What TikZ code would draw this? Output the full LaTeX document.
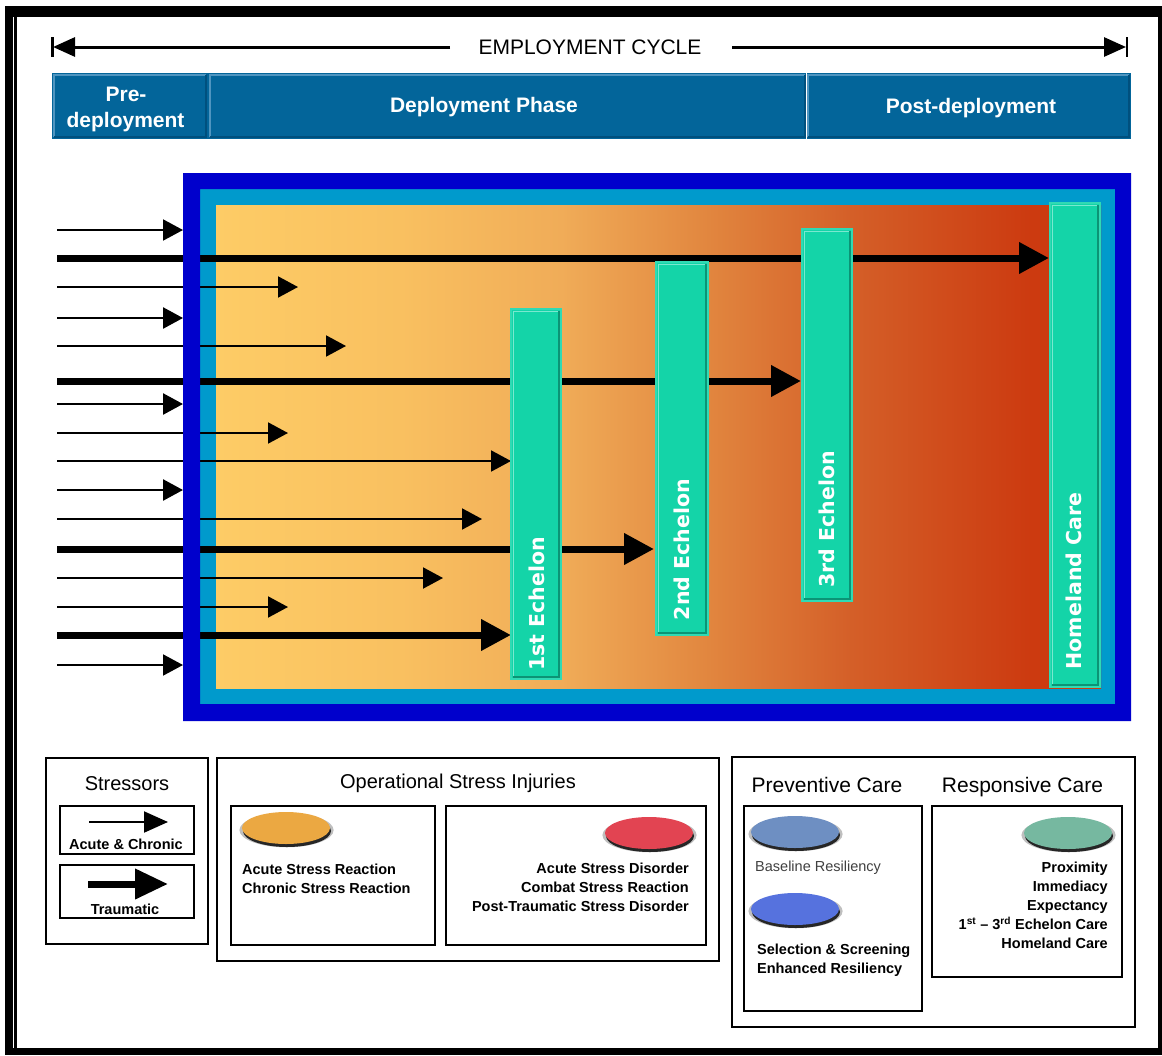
\documentclass[tikz,border=0pt]{standalone}
\usepackage{fontspec}
\setmainfont{Liberation Sans}
\newfontfamily\echfont{DejaVu Sans}
\usetikzlibrary{arrows.meta,shapes.geometric,shadows}

\definecolor{hdr}{HTML}{03659A}
\definecolor{hdrlight}{HTML}{4F95C0}
\definecolor{hdrdark}{HTML}{00507E}
\definecolor{darkblue}{HTML}{0000CC}
\definecolor{lightblue}{HTML}{009ACC}
\definecolor{barfill}{HTML}{14D4A8}
\definecolor{barrim}{HTML}{30DAB4}
\definecolor{barlight}{HTML}{7AE8CF}
\definecolor{bardark}{HTML}{0B9475}
\definecolor{g0}{RGB}{253,204,102}
\definecolor{g1}{RGB}{249,192,96}
\definecolor{g2}{RGB}{240,172,88}
\definecolor{g3}{RGB}{226,136,64}
\definecolor{g4}{RGB}{212,95,40}
\definecolor{g5}{RGB}{204,58,16}
\definecolor{btnorange}{HTML}{EBA842}
\definecolor{btnred}{HTML}{E24452}
\definecolor{btnsteel}{HTML}{6E8FC2}
\definecolor{btnroyal}{HTML}{5672DE}
\definecolor{btngreen}{HTML}{76B8A0}

\pgfdeclarehorizontalshading{panelgrad}{100bp}{color(0bp)=(g0); color(25bp)=(g0); color(35.4bp)=(g1); color(44.5bp)=(g2); color(52.4bp)=(g3); color(60.9bp)=(g4); color(71.1bp)=(g5); color(100bp)=(g5)}

\tikzset{
  thinarr/.style={line width=2pt, -{Triangle[length=20pt,width=21pt]}},
  midarr/.style={line width=2.5pt, -{Triangle[length=20pt,width=21pt]}},
  thickarr/.style={line width=7pt, -{Triangle[length=30pt,width=30pt]}},
  echbar/.style={rectangle, fill=barfill, draw=barrim, line width=1.5pt, inner sep=0pt},
  echtxt/.style={text=white, font=\echfont\bfseries\fontsize{20.5}{24}\selectfont, inner sep=0pt, rotate=90},
  hdrsec/.style={rectangle, fill=hdr, inner sep=0pt},
  hdrtxt/.style={text=white, font=\bfseries\fontsize{21}{24}\selectfont, inner sep=0pt},
  legbox/.style={draw=black, line width=2pt, fill=white},
  legtitle/.style={font=\fontsize{20}{24}\selectfont, inner sep=0pt},
  legbold/.style={font=\bfseries\fontsize{14.5}{17}\selectfont, inner sep=0pt},
  legreg/.style={font=\fontsize{14.5}{17}\selectfont, inner sep=0pt, text=black!75},
  btn/.style={ellipse, minimum width=88pt, minimum height=32pt, inner sep=0pt, fill=#1,
     general shadow={shadow xshift=0.5pt, shadow yshift=-2pt, shadow scale=1.07, fill=black!25},
     general shadow={shadow xshift=1pt, shadow yshift=-3pt, fill=black!85}},
}

\begin{document}
\begin{tikzpicture}[x=1pt,y=-1pt]
\useasboundingbox (0,0) rectangle (1162,1055);
% outer frame
\fill[black] (5,6) rectangle (1162,1055);
\fill[white] (17,17.3) rectangle (1158.3,1048.3);
\fill[white] (12.5,17.3) rectangle (14.3,1048.3);

% employment cycle
\node[font=\fontsize{21}{24}\selectfont, inner sep=0pt] (ec) at (590,47) {EMPLOYMENT CYCLE};
\coordinate (ecLs) at (450,47);
\coordinate (ecLe) at (53,47);
\coordinate (ecRs) at (732,47);
\coordinate (ecRe) at (1126,47);
\draw[line width=3pt, -{Triangle[length=22pt,width=19pt]}] (ecLs) -- (ecLe);
\draw[line width=3pt, -{Triangle[length=22pt,width=19pt]}] (ecRs) -- (ecRe);
\draw[line width=2.5pt] (52.5,37) -- (52.5,57);
\draw[line width=2.5pt] (1127,37) -- (1127,57);

% phase header
\fill[hdr] (52,73) rectangle (1131,139);
\node[hdrsec, minimum width=152pt, minimum height=62pt] (pre) at (130,106) {};
\node[hdrsec, minimum width=595pt, minimum height=62pt] (dep) at (507.5,106) {};
\node[hdrsec, minimum width=321pt, minimum height=62pt] (post) at (968.5,106) {};
\foreach \s in {pre,dep,post}{
  \draw[hdrlight, line width=1.5pt] (\s.south west) -- (\s.north west) -- (\s.north east);
  \draw[hdrdark, line width=2.5pt] (\s.north east) -- (\s.south east) -- (\s.south west);
}
\draw[white, line width=1pt] (806.5,73) -- (806.5,139);
\node[hdrtxt] (tpre1) at (126,94) {Pre-};
\node[hdrtxt] (tpre2) at (125.5,122) {deployment};
\node[hdrtxt] (tdep) at (484,107) {Deployment Phase};
\node[hdrtxt] (tpost) at (971,108) {Post-deployment};

% main panel
\fill[lightblue] (200,189) rectangle (1115,704);
\shade[shading=panelgrad] (216,205) rectangle (1101,688);

% stressor arrows
\foreach \n/\yy/\xe/\kind in {1/230/183/thinarr, 2/258/1049/thickarr, 3/287/298/thinarr,
  4/318/183/midarr, 5/346/346/thinarr, 6/381/801/thickarr, 7/404/183/midarr,
  8/433/288/thinarr, 9/461/511/thinarr, 10/490/183/midarr, 11/519/482/thinarr,
  12/549/654/thickarr, 13/578/443/thinarr, 14/607/288/thinarr, 15/635/511/thickarr,
  16/665/183/thinarr}{
  \coordinate (s\n) at (57,\yy);
  \coordinate (e\n) at (\xe,\yy);
  \draw[\kind] (s\n) -- (e\n);
}

% echelon bars
\node[echbar, minimum width=50pt, minimum height=370pt] (b1) at (536,494) {};
\node[echbar, minimum width=52pt, minimum height=373pt] (b2) at (682,448.5) {};
\node[echbar, minimum width=50pt, minimum height=372pt] (b3) at (827,415) {};
\node[echbar, minimum width=50pt, minimum height=484pt] (b4) at (1075,445) {};
\foreach \b in {b1,b2,b3,b4}{
  \draw[barlight, line width=1pt] ([shift={(3,-3)}]\b.south west) -- ([shift={(3,3)}]\b.north west) -- ([shift={(-3,3)}]\b.north east);
  \draw[bardark, line width=1.5pt] ([shift={(-3,3)}]\b.north east) -- ([shift={(-3,-3)}]\b.south east) -- ([shift={(3,-3)}]\b.south west);
}
\node[echtxt] (t1) at (536.5,604) {1st Echelon};
\node[echtxt] (t2) at (681.5,549.5) {2nd Echelon};
\node[echtxt] (t3) at (827,519.5) {3rd Echelon};
\node[echtxt] (t4) at (1074,581) {Homeland Care};

% dark blue frame on top
\fill[darkblue, even odd rule] (183,173) rectangle (1131,721) (200,189) rectangle (1115,704);

% ---- legend: stressors
\node[legbox, minimum width=162pt, minimum height=186pt] (lgS) at (127,851) {};
\node[legtitle] (lgSt) at (127,784) {Stressors};
\node[legbox, minimum width=134pt, minimum height=48pt] (lgA) at (127,830) {};
\node[legbox, minimum width=134pt, minimum height=53pt] (lgT) at (127,891.5) {};
\coordinate (la1) at (89,822);
\coordinate (la2) at (168,822);
\coordinate (lt1) at (88,884);
\coordinate (lt2) at (168,884);
\draw[line width=2pt, -{Triangle[length=24pt,width=21pt]}] (la1) -- (la2);
\draw[line width=7pt, -{Triangle[length=33pt,width=29pt]}] (lt1) -- (lt2);
\node[legbold] (lgAt) at (126,844) {Acute \& Chronic};
\node[legbold] (lgTt) at (125,909) {Traumatic};

% ---- legend: operational stress injuries
\node[legbox, minimum width=502pt, minimum height=203pt] (lgO) at (468,859.5) {};
\node[legtitle] (lgOt) at (458,783) {Operational Stress Injuries};
\node[legbox, minimum width=204pt, minimum height=139pt] (lgO1) at (333,875.5) {};
\node[legbox, minimum width=260pt, minimum height=139pt] (lgO2) at (576,875.5) {};
\node[btn=btnorange] (elO) at (286,828) {};
\node[btn=btnred] (elR) at (649,833) {};
\node[legbold, anchor=mid west] (o1a) at (242,872) {Acute Stress Reaction};
\node[legbold, anchor=mid west] (o1b) at (242,891) {Chronic Stress Reaction};
\node[legbold, anchor=mid east] (o2a) at (689,871) {Acute Stress Disorder};
\node[legbold, anchor=mid east] (o2b) at (689,890) {Combat Stress Reaction};
\node[legbold, anchor=mid east] (o2c) at (689,909) {Post-Traumatic Stress Disorder};

% ---- legend: care
\node[legbox, minimum width=403pt, minimum height=270pt] (lgC) at (933.5,892) {};
\node[legtitle, font=\fontsize{21}{24}\selectfont] (lgPt) at (827,785) {Preventive Care};
\node[legtitle, font=\fontsize{21}{24}\selectfont] (lgRt) at (1022.5,787) {Responsive Care};
\node[legbox, minimum width=178pt, minimum height=205pt] (lgP) at (833,908.5) {};
\node[legbox, minimum width=190pt, minimum height=171pt] (lgR) at (1027,891.5) {};
\node[btn=btnsteel] (elS) at (795,832) {};
\node[btn=btnroyal] (elB) at (795,909) {};
\node[btn=btngreen] (elG) at (1068,833) {};
\node[legreg, anchor=mid west] (p1) at (755,869) {Baseline Resiliency};
\node[legbold, anchor=mid west] (p2) at (757,952) {Selection \& Screening};
\node[legbold, anchor=mid west] (p3) at (757,971) {Enhanced Resiliency};
\node[legbold, anchor=mid east] (r1) at (1108,870) {Proximity};
\node[legbold, anchor=mid east] (r2) at (1108,889) {Immediacy};
\node[legbold, anchor=mid east] (r3) at (1108,908) {Expectancy};
\node[legbold, anchor=mid east] (r4) at (1108,927) {1\textsuperscript{st} – 3\textsuperscript{rd} Echelon Care};
\node[legbold, anchor=mid east] (r5) at (1108,946) {Homeland Care};
\end{tikzpicture}
\end{document}
